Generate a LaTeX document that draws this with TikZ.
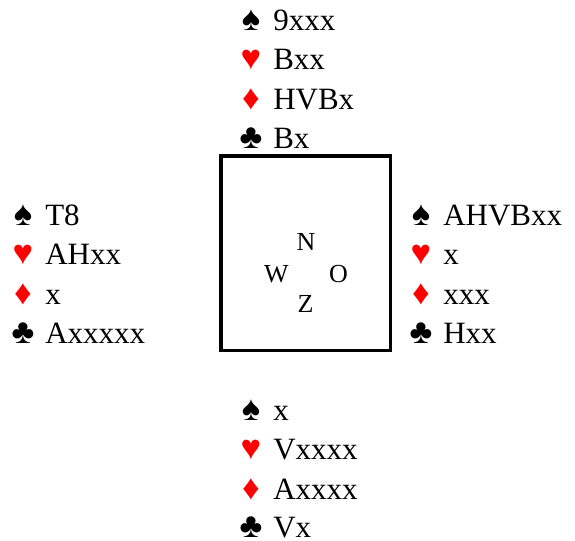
\documentclass[tikz,border=0pt]{standalone}
\usepackage{fontspec}
\setmainfont{Liberation Serif}
\begin{document}
\begin{tikzpicture}[x=0.75pt,y=-0.75pt,
  holding/.style={anchor=base west, inner sep=0pt, font=\fontsize{23.25}{27}\selectfont},
  suitsym/.style={anchor=base, inner sep=0pt, font=\fontsize{26}{27}\selectfont},
  redsuit/.style={suitsym, text=red},
  compass/.style={anchor=base, inner sep=0pt, font=\fontsize{19.5}{22}\selectfont},
  tablebox/.style={draw, line width=2.3pt, minimum width=127.1pt, minimum height=145.9pt, inner sep=0pt}]
\useasboundingbox (0,0) rectangle (575,540);
% table
\node[tablebox] (table) at (305.75,253.25) {};
\node[compass] (cn) at (306,250) {N};
\node[compass] (cw) at (276.5,282) {W};
\node[compass] (co) at (338.5,282) {O};
\node[compass] (cz) at (305.5,312) {Z};
% North
\node[suitsym] (ns) at (251,30) {♠};   \node[holding] (nst) at (273,30) {9xxx};
\node[redsuit] (nh) at (251,69.5) {♥}; \node[holding] (nht) at (273,69.5) {Bxx};
\node[redsuit] (nd) at (251,109) {♦};  \node[holding] (ndt) at (273,109) {HVBx};
\node[suitsym] (nc) at (251,148.5) {♣};\node[holding] (nct) at (273,148.5) {Bx};
% West
\node[suitsym] (ws) at (23,225) {♠};   \node[holding] (wst) at (45,225) {T8};
\node[redsuit] (wh) at (23,264.5) {♥}; \node[holding] (wht) at (45,264.5) {AHxx};
\node[redsuit] (wd) at (23,304) {♦};   \node[holding] (wdt) at (45,304) {x};
\node[suitsym] (wc) at (23,343.5) {♣}; \node[holding] (wct) at (45,343.5) {Axxxxx};
% East
\node[suitsym] (es) at (421,225) {♠};   \node[holding] (est) at (443,225) {AHVBxx};
\node[redsuit] (eh) at (421,264.5) {♥}; \node[holding] (eht) at (443,264.5) {x};
\node[redsuit] (ed) at (421,304) {♦};   \node[holding] (edt) at (443,304) {xxx};
\node[suitsym] (ec) at (421,343.5) {♣}; \node[holding] (ect) at (443,343.5) {Hxx};
% South
\node[suitsym] (ss) at (251,420.5) {♠};   \node[holding] (sst) at (273,420.5) {x};
\node[redsuit] (sh) at (251,459.8) {♥};   \node[holding] (sht) at (273,459.8) {Vxxxx};
\node[redsuit] (sd) at (251,499.1) {♦};   \node[holding] (sdt) at (273,499.1) {Axxxx};
\node[suitsym] (sc) at (251,537.5) {♣};   \node[holding] (sct) at (273,537.5) {Vx};
\end{tikzpicture}
\end{document}
